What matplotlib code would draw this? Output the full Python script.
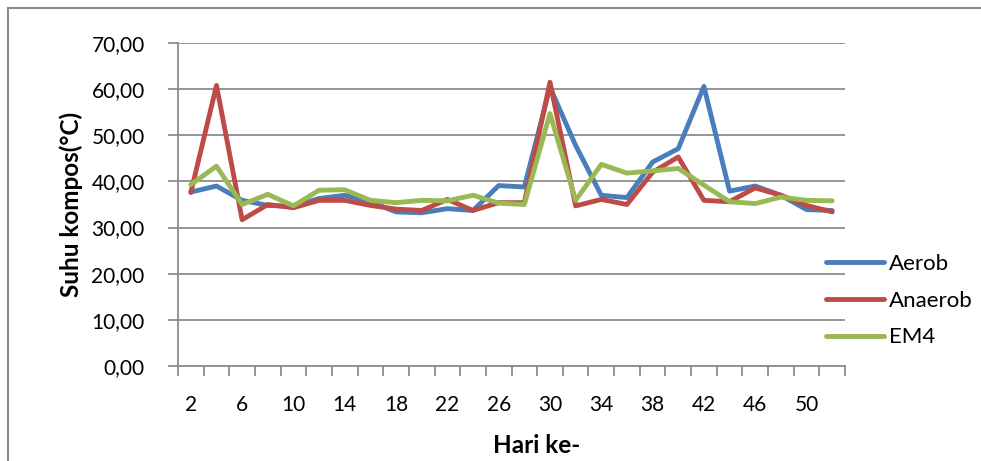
import matplotlib
matplotlib.use("Agg")
import matplotlib.pyplot as plt
from matplotlib.lines import Line2D

plt.rcParams['font.family'] = ['Lato', 'DejaVu Sans']

days = list(range(2, 54, 2))
aerob = [37.7, 39.0, 35.9, 34.8, 34.6, 36.3, 37.0, 35.6, 33.4, 33.2, 34.1, 33.7, 39.1,
         38.8, 60.4, 47.8, 37.0, 36.5, 44.2, 47.1, 60.6, 37.9, 39.0, 37.0, 33.9, 33.7]
anaerob = [37.6, 60.8, 31.7, 35.0, 34.3, 35.9, 35.9, 34.8, 34.0, 33.7, 36.1, 33.7, 35.4,
           35.4, 61.5, 34.7, 36.1, 35.0, 42.0, 45.3, 35.9, 35.6, 38.6, 37.0, 34.8, 33.4]
em4 = [39.3, 43.3, 35.0, 37.2, 34.7, 38.1, 38.2, 35.9, 35.4, 35.9, 35.8, 37.0, 35.3,
       35.0, 54.7, 35.9, 43.7, 41.8, 42.3, 42.8, 39.2, 35.6, 35.2, 36.6, 35.9, 35.8]
series_names = ['Aerob', 'Anaerob', 'EM4']
colors = ['#4A7EBB', '#BE4B48', '#98B954']
yticks = [0, 10, 20, 30, 40, 50, 60, 70]

fig = plt.figure(figsize=(9.81, 4.61), dpi=100)
ax = fig.add_axes([178/981, 1 - 366/461, (845 - 178)/981, (366 - 43)/461])

x = list(range(len(days)))
for vals, name, c in zip([aerob, anaerob, em4], series_names, colors):
    ax.plot(x, vals, color=c, lw=3.5, solid_capstyle='round', solid_joinstyle='round', label=name)

ax.set_xlim(-0.5, len(days) - 0.5)
ax.set_ylim(0, 70)
ax.set_yticks(yticks)
ax.set_yticklabels([f"{v:.2f}".replace('.', ',') for v in yticks], fontsize=15)
ax.yaxis.grid(True, color='#8C8C8C', lw=1.3)
ax.set_axisbelow(True)

ax.set_xticks([i for i in range(0, len(days), 2)])
ax.set_xticklabels([str(days[i]) for i in range(0, len(days), 2)], fontsize=15)
ax.set_xticks([i - 0.5 for i in range(len(days) + 1)], minor=True)
ax.tick_params(axis='x', which='major', length=0, pad=21)
ax.tick_params(axis='x', which='minor', length=7, width=1.3, color='#8C8C8C')
ax.tick_params(axis='y', length=7, width=1.3, color='#8C8C8C', pad=17)

for s in ['top', 'right']:
    ax.spines[s].set_visible(False)
for s in ['left', 'bottom']:
    ax.spines[s].set_color('#8C8C8C')
    ax.spines[s].set_linewidth(1.3)

ax.set_ylabel('Suhu kompos(°C)', fontsize=17.5, fontweight='bold', labelpad=6)
ax.set_xlabel('Hari ke-', fontsize=17.5, fontweight='bold', va='center')
ax.xaxis.set_label_coords((537 - 178) / 667, (366 - 445) / 323)

ax.legend(loc='upper left', bbox_to_anchor=(826/981, 1 - 254/461), bbox_transform=fig.transFigure,
          frameon=False, fontsize=16, handlelength=2.6, handletextpad=0.25, labelspacing=0.75,
          borderpad=0, borderaxespad=0)

fig.add_artist(Line2D([7.5/981, 7.5/981], [0, 1 - 8.5/461], color='#8C8C8C', lw=1.5, transform=fig.transFigure))
fig.add_artist(Line2D([7.5/981, 1], [1 - 8.5/461, 1 - 8.5/461], color='#8C8C8C', lw=1.5, transform=fig.transFigure))

fig.savefig('out.png', dpi=100)
